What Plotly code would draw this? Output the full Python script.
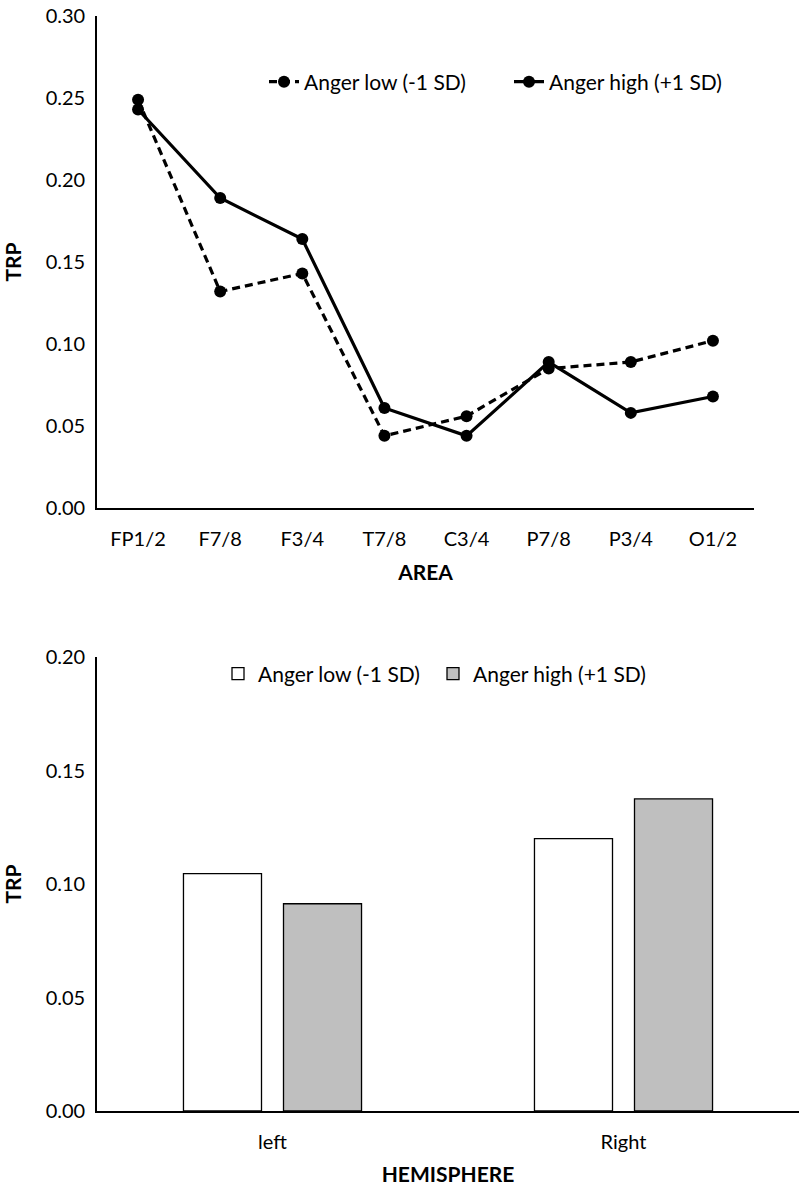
import plotly.graph_objects as go

# ---- data: top chart ----
areas = ["FP1/2", "F7/8", "F3/4", "T7/8", "C3/4", "P7/8", "P3/4", "O1/2"]
anger_low_area = [0.249, 0.132, 0.143, 0.044, 0.056, 0.085, 0.089, 0.102]
anger_high_area = [0.243, 0.189, 0.164, 0.061, 0.044, 0.089, 0.058, 0.068]

# ---- data: bottom chart ----
hemispheres = ["left", "Right"]
anger_low_hemi = [0.1046, 0.1200]
anger_high_hemi = [0.0913, 0.1375]

series_names = ["Anger low (-1 SD)", "Anger high (+1 SD)"]
top_ticks = [0.00, 0.05, 0.10, 0.15, 0.20, 0.25, 0.30]
bottom_ticks = [0.00, 0.05, 0.10, 0.15, 0.20]

FONT = "Lato"
W, H = 799, 1197
ML, MR, MT, MB = 97, 0, 16, 86
PW, PH = W - ML - MR, H - MT - MB


def px_x(x):
    return (x - ML) / PW


def px_y(y):
    return (H - MB - y) / PH


fig = go.Figure()

fig.add_trace(go.Scatter(
    x=areas, y=anger_low_area, name=series_names[0], mode="lines+markers",
    line=dict(color="black", width=3.2, dash="8px,5px"),
    marker=dict(color="black", size=12),
    xaxis="x", yaxis="y", legend="legend",
))
fig.add_trace(go.Scatter(
    x=areas, y=anger_high_area, name=series_names[1], mode="lines+markers",
    line=dict(color="black", width=3.2),
    marker=dict(color="black", size=12),
    xaxis="x", yaxis="y", legend="legend",
))

fig.add_trace(go.Bar(
    x=hemispheres, y=anger_low_hemi, name=series_names[0],
    marker=dict(color="white", line=dict(color="black", width=1.3)),
    xaxis="x2", yaxis="y2", legend="legend2",
))
fig.add_trace(go.Bar(
    x=hemispheres, y=anger_high_hemi, name=series_names[1],
    marker=dict(color="#BFBFBF", line=dict(color="black", width=1.3)),
    xaxis="x2", yaxis="y2", legend="legend2",
))

axis_common = dict(
    showline=True, linecolor="black", linewidth=1.6, showgrid=False,
    zeroline=False, ticks="", automargin=False,
    tickfont=dict(family=FONT, size=20, color="black"),
)
title_font = dict(family=FONT, size=21, color="black")

fig.update_layout(
    width=W, height=H,
    margin=dict(l=ML, r=MR, t=MT, b=MB),
    paper_bgcolor="white", plot_bgcolor="white",
    font=dict(family=FONT, color="black"),
    barmode="group", bargap=0.43, bargroupgap=0.22,
    xaxis=dict(domain=[0, px_x(754)], anchor="y", type="category",
               range=[-0.5, 7.5], ticklabelstandoff=12,
               title=dict(text="<b>AREA</b>", font=title_font, standoff=17),
               **axis_common),
    yaxis=dict(domain=[px_y(508), 1.0], anchor="x", range=[0, 0.30],
               tickvals=top_ticks, tickformat=".2f", ticklabelstandoff=6,
               title=dict(text="<b>TRP</b>", font=title_font, standoff=20),
               **axis_common),
    xaxis2=dict(domain=[0, 1.0], anchor="y2", type="category",
                range=[-0.5, 1.5], ticklabelstandoff=12,
                title=dict(text="<b>HEMISPHERE</b>", font=title_font, standoff=16),
                **axis_common),
    yaxis2=dict(domain=[0, px_y(657)], anchor="x2", range=[0, 0.20],
                tickvals=bottom_ticks, tickformat=".2f", ticklabelstandoff=6,
                title=dict(text="<b>TRP</b>", font=title_font, standoff=20),
                **axis_common),
    legend=dict(orientation="h", x=px_x(264), y=px_y(82), xanchor="left", yanchor="middle",
                entrywidth=200, entrywidthmode="pixels",
                font=dict(family=FONT, size=21, color="black"), bgcolor="rgba(0,0,0,0)"),
    legend2=dict(orientation="h", x=px_x(218), y=px_y(674), xanchor="left", yanchor="middle",
                 entrywidth=170, entrywidthmode="pixels",
                 font=dict(family=FONT, size=21, color="black"), bgcolor="rgba(0,0,0,0)"),
)

fig.write_html("out.html", config={"displayModeBar": False},
               post_script="document.body.style.margin='0';")
